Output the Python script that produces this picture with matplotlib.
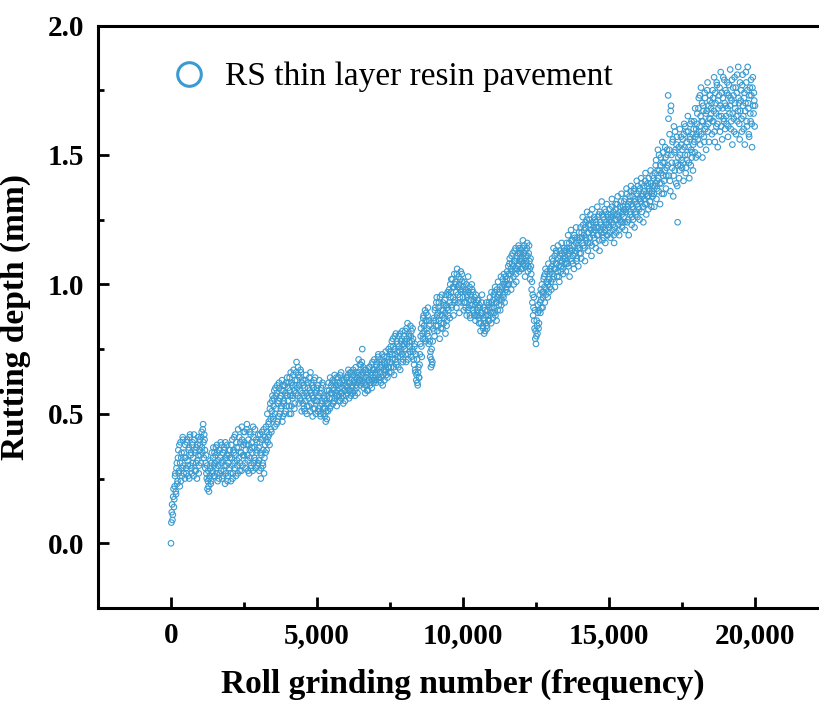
import matplotlib
matplotlib.use("Agg")
import matplotlib.pyplot as plt
import numpy as np
from matplotlib.lines import Line2D
from matplotlib.ticker import MultipleLocator, StrMethodFormatter

plt.rcParams['font.family'] = ['Liberation Serif', 'DejaVu Serif']

# rutting depth (mm) logged every 25 roll passes, 0 .. 20000
step = 25
depth = [
    # 0 - 1975
    0.00, 0.12, 0.09, 0.18, 0.14, 0.22, 0.27, 0.19, 0.31, 0.24, 0.36, 0.28, 0.22, 0.39, 0.33, 0.26, 0.41, 0.30, 0.35, 0.25,
    0.33, 0.27, 0.40, 0.30, 0.36, 0.25, 0.42, 0.34, 0.29, 0.38, 0.31, 0.26, 0.40, 0.35, 0.28, 0.37, 0.32, 0.41, 0.27, 0.36,
    0.38, 0.31, 0.43, 0.35, 0.46, 0.33, 0.40, 0.29, 0.34, 0.25, 0.21, 0.28, 0.20, 0.26, 0.32, 0.24, 0.35, 0.28, 0.37, 0.30,
    0.26, 0.34, 0.29, 0.38, 0.24, 0.32, 0.36, 0.27, 0.39, 0.31, 0.25, 0.35, 0.28, 0.37, 0.23, 0.33, 0.30, 0.38, 0.26, 0.34,
    # 2000 - 3975
    0.29, 0.36, 0.24, 0.33, 0.40, 0.27, 0.35, 0.31, 0.42, 0.26, 0.37, 0.30, 0.44, 0.33, 0.28, 0.39, 0.35, 0.45, 0.30, 0.38,
    0.34, 0.43, 0.29, 0.38, 0.46, 0.32, 0.40, 0.27, 0.36, 0.42, 0.30, 0.37, 0.28, 0.41, 0.33, 0.44, 0.29, 0.35, 0.39, 0.31,
    0.37, 0.28, 0.42, 0.25, 0.34, 0.40, 0.30, 0.44, 0.33, 0.38, 0.45, 0.36, 0.50, 0.41, 0.47, 0.38, 0.54, 0.44, 0.51, 0.57,
    0.48, 0.56, 0.45, 0.60, 0.52, 0.58, 0.47, 0.55, 0.62, 0.50, 0.57, 0.53, 0.63, 0.49, 0.59, 0.54, 0.61, 0.51, 0.57, 0.64,
    # 4000 - 5975
    0.55, 0.62, 0.50, 0.59, 0.66, 0.53, 0.61, 0.57, 0.67, 0.52, 0.63, 0.58, 0.70, 0.60, 0.68, 0.54, 0.64, 0.59, 0.66, 0.51,
    0.58, 0.63, 0.52, 0.60, 0.55, 0.65, 0.50, 0.57, 0.62, 0.53, 0.59, 0.66, 0.54, 0.61, 0.49, 0.56, 0.63, 0.52, 0.58, 0.55,
    0.60, 0.51, 0.57, 0.63, 0.53, 0.49, 0.58, 0.55, 0.61, 0.50, 0.56, 0.52, 0.47, 0.54, 0.59, 0.51, 0.62, 0.56, 0.64, 0.53,
    0.58, 0.62, 0.54, 0.60, 0.65, 0.56, 0.61, 0.53, 0.59, 0.64, 0.57, 0.62, 0.55, 0.66, 0.58, 0.60, 0.54, 0.63, 0.59, 0.61,
    # 6000 - 7975
    0.57, 0.64, 0.60, 0.67, 0.56, 0.62, 0.59, 0.66, 0.61, 0.58, 0.65, 0.63, 0.57, 0.68, 0.60, 0.64, 0.62, 0.71, 0.66, 0.63,
    0.69, 0.62, 0.75, 0.66, 0.60, 0.64, 0.58, 0.67, 0.61, 0.65, 0.59, 0.63, 0.68, 0.62, 0.66, 0.60, 0.70, 0.64, 0.67, 0.63,
    0.66, 0.62, 0.70, 0.65, 0.73, 0.63, 0.68, 0.71, 0.64, 0.69, 0.61, 0.67, 0.72, 0.66, 0.74, 0.65, 0.70, 0.68, 0.75, 0.66,
    0.70, 0.76, 0.66, 0.73, 0.79, 0.68, 0.75, 0.71, 0.81, 0.69, 0.77, 0.72, 0.80, 0.74, 0.67, 0.78, 0.73, 0.82, 0.71, 0.77,
    # 8000 - 9975
    0.75, 0.82, 0.70, 0.79, 0.85, 0.73, 0.80, 0.76, 0.84, 0.72, 0.78, 0.83, 0.74, 0.69, 0.77, 0.66, 0.63, 0.71, 0.61, 0.68,
    0.64, 0.73, 0.80, 0.76, 0.85, 0.79, 0.88, 0.82, 0.90, 0.78, 0.86, 0.81, 0.91, 0.77, 0.84, 0.72, 0.68, 0.75, 0.70, 0.83,
    0.87, 0.80, 0.91, 0.84, 0.95, 0.82, 0.89, 0.93, 0.79, 0.88, 0.85, 0.96, 0.83, 0.90, 0.87, 0.94, 0.81, 0.92, 0.86, 0.97,
    0.90, 0.98, 0.87, 0.95, 1.02, 0.92, 0.99, 0.88, 1.04, 0.94, 1.00, 0.91, 1.06, 0.96, 1.03, 0.89, 0.98, 1.05, 0.93, 1.01,
    # 10000 - 11975
    0.95, 0.90, 1.01, 0.93, 0.98, 0.88, 0.96, 1.03, 0.91, 0.99, 0.87, 0.94, 1.00, 0.92, 0.97, 0.89, 0.95, 0.86, 0.93, 0.90,
    0.88, 0.94, 0.85, 0.91, 0.82, 0.89, 0.96, 0.84, 0.87, 0.81, 0.90, 0.85, 0.93, 0.83, 0.88, 0.92, 0.86, 0.95, 0.89, 0.97,
    0.91, 0.87, 0.96, 0.89, 0.99, 0.93, 0.86, 0.95, 1.01, 0.92, 0.97, 0.90, 1.03, 0.94, 0.99, 0.96, 1.04, 0.93, 1.01, 0.98,
    1.02, 0.97, 1.07, 1.00, 1.10, 1.04, 0.98, 1.08, 1.12, 1.03, 1.09, 1.06, 1.14, 1.01, 1.11, 1.07, 1.15, 1.05, 1.12, 1.09,
    # 12000 - 13975
    1.13, 1.06, 1.17, 1.10, 1.15, 1.03, 1.11, 1.08, 1.16, 1.05, 1.12, 1.09, 1.02, 1.07, 0.98, 0.93, 0.88, 0.95, 0.83, 0.79,
    0.77, 0.86, 0.81, 0.92, 0.85, 0.96, 0.89, 0.94, 1.00, 0.91, 0.97, 1.03, 0.93, 1.06, 0.98, 1.01, 0.95, 1.08, 1.02, 0.99,
    1.05, 0.98, 1.10, 1.02, 1.14, 1.06, 0.99, 1.08, 1.12, 1.03, 1.15, 1.07, 1.01, 1.11, 1.05, 1.16, 1.09, 1.04, 1.13, 1.08,
    1.10, 1.05, 1.16, 1.08, 1.19, 1.12, 1.03, 1.14, 1.21, 1.09, 1.17, 1.11, 1.06, 1.18, 1.13, 1.22, 1.10, 1.15, 1.07, 1.20,
    # 14000 - 15975
    1.14, 1.22, 1.10, 1.18, 1.26, 1.15, 1.21, 1.09, 1.24, 1.17, 1.28, 1.13, 1.20, 1.25, 1.16, 1.23, 1.11, 1.29, 1.19, 1.22,
    1.18, 1.25, 1.14, 1.22, 1.30, 1.19, 1.27, 1.13, 1.24, 1.21, 1.32, 1.17, 1.26, 1.20, 1.29, 1.16, 1.23, 1.31, 1.19, 1.27,
    1.22, 1.29, 1.18, 1.26, 1.33, 1.21, 1.28, 1.16, 1.25, 1.31, 1.20, 1.27, 1.34, 1.23, 1.19, 1.30, 1.24, 1.35, 1.22, 1.28,
    1.26, 1.32, 1.21, 1.29, 1.37, 1.24, 1.31, 1.19, 1.34, 1.27, 1.38, 1.23, 1.30, 1.25, 1.36, 1.22, 1.33, 1.28, 1.40, 1.26,
    # 16000 - 17975
    1.30, 1.36, 1.25, 1.33, 1.41, 1.28, 1.35, 1.24, 1.38, 1.31, 1.43, 1.27, 1.34, 1.39, 1.29, 1.37, 1.32, 1.44, 1.30, 1.36,
    1.34, 1.41, 1.30, 1.38, 1.46, 1.33, 1.40, 1.52, 1.36, 1.44, 1.31, 1.49, 1.39, 1.55, 1.42, 1.35, 1.47, 1.53, 1.37, 1.45,
    1.50, 1.73, 1.42, 1.58, 1.36, 1.69, 1.47, 1.55, 1.34, 1.61, 1.44, 1.52, 1.39, 1.57, 1.24, 1.49, 1.41, 1.60, 1.46, 1.54,
    1.45, 1.56, 1.40, 1.62, 1.50, 1.43, 1.59, 1.48, 1.65, 1.53, 1.41, 1.57, 1.46, 1.63, 1.51, 1.44, 1.60, 1.55, 1.68, 1.49,
    # 18000 - 20000
    1.58, 1.66, 1.50, 1.72, 1.61, 1.54, 1.76, 1.63, 1.49, 1.69, 1.57, 1.74, 1.60, 1.52, 1.67, 1.78, 1.62, 1.55, 1.71, 1.64,
    1.66, 1.58, 1.75, 1.63, 1.80, 1.55, 1.70, 1.61, 1.77, 1.53, 1.68, 1.73, 1.59, 1.82, 1.65, 1.56, 1.72, 1.64, 1.79, 1.60,
    1.69, 1.62, 1.78, 1.57, 1.73, 1.66, 1.83, 1.60, 1.71, 1.54, 1.76, 1.64, 1.80, 1.68, 1.58, 1.74, 1.63, 1.84, 1.70, 1.56,
    1.67, 1.75, 1.59, 1.81, 1.65, 1.72, 1.54, 1.70, 1.78, 1.61, 1.84, 1.68, 1.57, 1.76, 1.63, 1.73, 1.53, 1.80, 1.66, 1.71,
    1.69,
]

# readings taken half-way between the logged passes (12.5, 37.5, ..)
depth_mid = [
    # 12.5 - 1987.5
    0.08, 0.15, 0.11, 0.21, 0.17, 0.26, 0.20, 0.29, 0.23, 0.33, 0.27, 0.38, 0.31, 0.24, 0.35, 0.29, 0.40, 0.27, 0.33, 0.38,
    0.29, 0.39, 0.32, 0.26, 0.37, 0.41, 0.30, 0.35, 0.27, 0.39, 0.33, 0.42, 0.28, 0.36, 0.31, 0.25, 0.38, 0.34, 0.30, 0.40,
    0.34, 0.41, 0.37, 0.44, 0.39, 0.42, 0.36, 0.31, 0.27, 0.30, 0.24, 0.22, 0.25, 0.29, 0.23, 0.31, 0.27, 0.33, 0.26, 0.35,
    0.31, 0.37, 0.27, 0.35, 0.30, 0.25, 0.36, 0.33, 0.28, 0.38, 0.32, 0.26, 0.36, 0.30, 0.39, 0.27, 0.34, 0.24, 0.31, 0.36,
    # 2012.5 - 3987.5
    0.33, 0.27, 0.38, 0.30, 0.25, 0.36, 0.41, 0.29, 0.34, 0.39, 0.32, 0.27, 0.37, 0.41, 0.31, 0.35, 0.28, 0.40, 0.34, 0.43,
    0.39, 0.31, 0.36, 0.44, 0.34, 0.28, 0.38, 0.43, 0.33, 0.29, 0.39, 0.35, 0.45, 0.31, 0.37, 0.32, 0.40, 0.36, 0.30, 0.42,
    0.32, 0.39, 0.35, 0.29, 0.43, 0.31, 0.36, 0.27, 0.41, 0.35, 0.40, 0.43, 0.39, 0.46, 0.42, 0.52, 0.48, 0.43, 0.55, 0.49,
    0.53, 0.59, 0.50, 0.57, 0.46, 0.61, 0.54, 0.49, 0.60, 0.56, 0.52, 0.59, 0.47, 0.61, 0.55, 0.50, 0.58, 0.62, 0.53, 0.57,
    # 4012.5 - 5987.5
    0.60, 0.53, 0.64, 0.57, 0.50, 0.62, 0.56, 0.65, 0.59, 0.54, 0.61, 0.66, 0.63, 0.57, 0.65, 0.61, 0.56, 0.67, 0.55, 0.62,
    0.54, 0.61, 0.57, 0.51, 0.63, 0.58, 0.53, 0.60, 0.56, 0.64, 0.51, 0.58, 0.62, 0.57, 0.52, 0.60, 0.55, 0.64, 0.50, 0.59,
    0.55, 0.61, 0.52, 0.58, 0.50, 0.60, 0.54, 0.62, 0.52, 0.57, 0.49, 0.55, 0.51, 0.48, 0.57, 0.54, 0.59, 0.52, 0.58, 0.61,
    0.56, 0.63, 0.59, 0.55, 0.62, 0.58, 0.64, 0.57, 0.61, 0.55, 0.60, 0.65, 0.58, 0.56, 0.63, 0.57, 0.62, 0.59, 0.55, 0.64,
    # 6012.5 - 7987.5
    0.61, 0.58, 0.65, 0.62, 0.59, 0.66, 0.57, 0.63, 0.60, 0.67, 0.62, 0.59, 0.64, 0.61, 0.66, 0.58, 0.65, 0.63, 0.69, 0.61,
    0.65, 0.70, 0.63, 0.68, 0.62, 0.67, 0.61, 0.64, 0.59, 0.66, 0.63, 0.68, 0.61, 0.65, 0.69, 0.63, 0.67, 0.62, 0.71, 0.65,
    0.63, 0.69, 0.67, 0.72, 0.64, 0.70, 0.66, 0.62, 0.68, 0.73, 0.65, 0.70, 0.63, 0.69, 0.67, 0.72, 0.64, 0.71, 0.68, 0.73,
    0.74, 0.68, 0.78, 0.71, 0.76, 0.65, 0.80, 0.73, 0.70, 0.78, 0.74, 0.68, 0.76, 0.81, 0.72, 0.75, 0.79, 0.70, 0.76, 0.80,
    # 8012.5 - 9987.5
    0.78, 0.73, 0.83, 0.77, 0.71, 0.81, 0.78, 0.74, 0.80, 0.82, 0.75, 0.79, 0.71, 0.76, 0.67, 0.73, 0.65, 0.62, 0.66, 0.64,
    0.69, 0.77, 0.83, 0.72, 0.81, 0.87, 0.84, 0.79, 0.86, 0.89, 0.83, 0.88, 0.80, 0.86, 0.78, 0.74, 0.71, 0.69, 0.78, 0.86,
    0.82, 0.90, 0.86, 0.93, 0.88, 0.84, 0.91, 0.86, 0.95, 0.83, 0.90, 0.88, 0.93, 0.85, 0.92, 0.89, 0.96, 0.84, 0.91, 0.88,
    0.96, 0.93, 1.00, 0.97, 0.91, 1.02, 0.95, 0.99, 0.93, 1.01, 0.97, 1.04, 0.99, 0.93, 1.00, 0.95, 1.02, 0.97, 1.04, 0.98,
    # 10012.5 - 11987.5
    0.99, 0.93, 0.97, 0.91, 1.00, 0.95, 0.90, 0.97, 0.94, 0.88, 0.96, 0.92, 0.98, 0.90, 0.94, 0.88, 0.92, 0.96, 0.88, 0.94,
    0.91, 0.87, 0.92, 0.88, 0.85, 0.93, 0.89, 0.83, 0.91, 0.86, 0.82, 0.88, 0.84, 0.90, 0.86, 0.93, 0.88, 0.91, 0.85, 0.93,
    0.89, 0.94, 0.91, 0.97, 0.88, 0.93, 0.98, 0.90, 0.96, 0.94, 0.99, 0.95, 0.92, 0.98, 1.02, 0.95, 1.00, 0.97, 1.03, 1.00,
    1.05, 1.00, 1.04, 1.08, 1.02, 1.06, 1.11, 1.05, 1.07, 1.00, 1.13, 1.09, 1.04, 1.10, 1.06, 1.12, 1.08, 1.14, 1.10, 1.06,
    # 12012.5 - 13987.5
    1.09, 1.14, 1.08, 1.12, 1.07, 1.13, 1.09, 1.14, 1.11, 1.07, 1.15, 1.06, 1.10, 1.04, 1.01, 0.96, 0.91, 0.86, 0.90, 0.82,
    0.80, 0.84, 0.89, 0.83, 0.90, 0.93, 0.98, 0.91, 0.97, 0.95, 1.02, 0.99, 1.04, 0.96, 1.01, 1.05, 1.00, 0.97, 1.04, 1.06,
    1.01, 1.07, 1.04, 1.09, 1.03, 1.11, 1.06, 1.13, 1.08, 1.05, 1.10, 1.03, 1.13, 1.09, 1.07, 1.12, 1.06, 1.10, 1.14, 1.11,
    1.13, 1.08, 1.14, 1.11, 1.07, 1.16, 1.13, 1.10, 1.17, 1.13, 1.08, 1.15, 1.19, 1.12, 1.16, 1.09, 1.18, 1.14, 1.17, 1.12,
    # 14012.5 - 15987.5
    1.18, 1.12, 1.20, 1.16, 1.23, 1.19, 1.14, 1.22, 1.18, 1.25, 1.20, 1.16, 1.23, 1.18, 1.27, 1.21, 1.15, 1.24, 1.20, 1.26,
    1.21, 1.16, 1.24, 1.19, 1.26, 1.22, 1.17, 1.28, 1.23, 1.20, 1.27, 1.22, 1.18, 1.25, 1.21, 1.28, 1.24, 1.19, 1.26, 1.23,
    1.25, 1.20, 1.27, 1.24, 1.30, 1.23, 1.19, 1.27, 1.22, 1.29, 1.25, 1.31, 1.26, 1.21, 1.28, 1.25, 1.32, 1.27, 1.24, 1.30,
    1.29, 1.24, 1.33, 1.28, 1.35, 1.30, 1.25, 1.32, 1.28, 1.36, 1.31, 1.26, 1.34, 1.29, 1.37, 1.32, 1.27, 1.35, 1.31, 1.38,
    # 16012.5 - 17987.5
    1.33, 1.29, 1.37, 1.32, 1.39, 1.34, 1.30, 1.36, 1.33, 1.40, 1.35, 1.31, 1.38, 1.34, 1.41, 1.36, 1.32, 1.39, 1.35, 1.42,
    1.38, 1.35, 1.43, 1.39, 1.48, 1.37, 1.44, 1.41, 1.50, 1.39, 1.46, 1.43, 1.35, 1.47, 1.51, 1.40, 1.44, 1.49, 1.42, 1.52,
    1.46, 1.64, 1.52, 1.40, 1.67, 1.50, 1.45, 1.56, 1.42, 1.51, 1.59, 1.47, 1.54, 1.38, 1.46, 1.53, 1.44, 1.50, 1.57, 1.48,
    1.52, 1.47, 1.58, 1.53, 1.61, 1.45, 1.55, 1.50, 1.59, 1.47, 1.56, 1.62, 1.52, 1.49, 1.58, 1.54, 1.63, 1.51, 1.57, 1.60,
    # 18012.5 - 19987.5
    1.62, 1.56, 1.68, 1.59, 1.73, 1.65, 1.58, 1.70, 1.63, 1.67, 1.55, 1.72, 1.66, 1.61, 1.75, 1.59, 1.69, 1.64, 1.73, 1.68,
    1.70, 1.63, 1.72, 1.67, 1.59, 1.74, 1.66, 1.78, 1.62, 1.71, 1.65, 1.76, 1.69, 1.61, 1.74, 1.68, 1.80, 1.63, 1.70, 1.75,
    1.65, 1.74, 1.68, 1.61, 1.77, 1.69, 1.72, 1.63, 1.79, 1.66, 1.73, 1.59, 1.70, 1.76, 1.65, 1.81, 1.67, 1.72, 1.62, 1.78,
    1.71, 1.64, 1.77, 1.69, 1.60, 1.74, 1.67, 1.82, 1.63, 1.75, 1.70, 1.58, 1.73, 1.66, 1.79, 1.62, 1.76, 1.69, 1.74, 1.61,
]

passes = np.arange(len(depth)) * step
passes_mid = np.arange(len(depth_mid)) * step + step / 2

series_label = "RS thin layer resin pavement"
color = "#3a9bd1"

fig = plt.figure(figsize=(8.19, 7.06), dpi=100)
# right spine sits just past the edge of the figure
ax = fig.add_axes([98 / 819, 1 - 608 / 706, 730 / 819, 582.5 / 706])

x_all = np.concatenate([passes, passes_mid])
y_all = np.concatenate([depth, depth_mid])
ax.scatter(x_all, y_all, s=16, facecolors='none', edgecolors=color,
           linewidths=0.8, zorder=3)

ax.set_xlim(-2500, 22500)
ax.set_ylim(-0.25, 2.0)
ax.xaxis.set_major_locator(MultipleLocator(5000))
ax.xaxis.set_minor_locator(MultipleLocator(2500))
ax.yaxis.set_major_locator(MultipleLocator(0.5))
ax.yaxis.set_minor_locator(MultipleLocator(0.25))
ax.xaxis.set_major_formatter(StrMethodFormatter('{x:,.0f}'))
ax.yaxis.set_major_formatter(StrMethodFormatter('{x:.1f}'))

for side in ax.spines.values():
    side.set_linewidth(2.2)
ax.tick_params(which='both', direction='in', width=2.0, top=False, right=False)
ax.tick_params(which='major', length=8, labelsize=21, pad=10)
ax.tick_params(which='minor', length=4)
for lab in ax.get_xticklabels() + ax.get_yticklabels():
    lab.set_fontweight('bold')

ax.set_xlabel("Roll grinding number (frequency)", fontsize=24,
              fontweight='bold', labelpad=14)
ax.set_ylabel("Rutting depth (mm)", fontsize=24, fontweight='bold', labelpad=12)

handle = Line2D([], [], linestyle='none', marker='o', markersize=17,
                markerfacecolor='none', markeredgecolor=color,
                markeredgewidth=2.2)
ax.legend([handle], [series_label], loc='center left',
          bbox_to_anchor=((172 - 98) / 730, 1 - (77 - 25.5) / 582.5),
          frameon=False, fontsize=24, borderpad=0, borderaxespad=0,
          handlelength=1.0, handletextpad=0.6)

fig.savefig("out.png", dpi=100)
